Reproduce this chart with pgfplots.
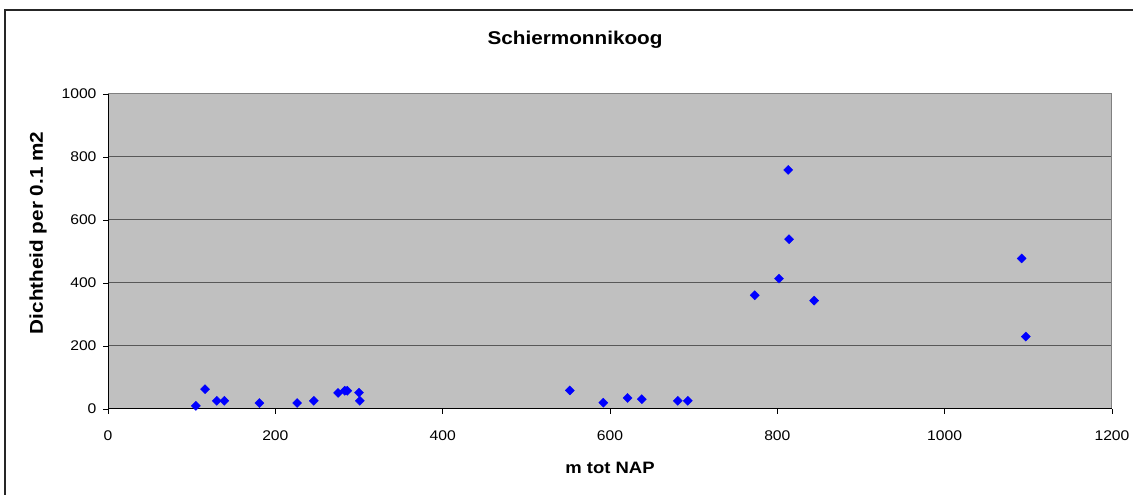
\documentclass[border=0pt]{standalone}
\usepackage{fontspec}
\setmainfont{Liberation Sans}[FakeStretch=1.12]
\usepackage{pgfplots}
\pgfplotsset{compat=1.18}
\definecolor{plotgrey}{RGB}{192,192,192}
\definecolor{gridgrey}{RGB}{88,88,88}
\definecolor{framegrey}{RGB}{128,128,128}

\begin{document}
\begin{tikzpicture}[x=1pt,y=1pt]
% outer chart frame
\draw[line width=1.2pt, black!85] (5,-20) -- (5,485) -- (1150,485);
\node[font=\bfseries\fontsize{18.5}{20}\selectfont] at (575,455) {Schiermonnikoog};
\begin{axis}[
  at={(108pt,86pt)}, anchor=south west,
  scale only axis, width=1004pt, height=315pt,
  xmin=0, xmax=1200, ymin=0, ymax=1000,
  xtick={0,200,...,1200}, ytick={0,200,...,1000},
  axis background/.style={fill=plotgrey},
  ymajorgrids, grid style={gridgrey, line width=1pt},
  axis line style={framegrey, line width=1pt},
  tick align=outside, major tick length=5pt,
  tick style={black, line width=0.8pt},
  tick pos=left,
  ticklabel style={font=\fontsize{14}{16}\selectfont},
  xticklabel style={yshift=-13pt},
  yticklabel style={xshift=-3pt},
  /pgf/number format/assume math mode=true,
  /pgf/number format/1000 sep={},
  scaled ticks=false,
  xlabel={m tot NAP}, ylabel={Dichtheid per 0.1 m2},
  xlabel style={font=\bfseries\fontsize{16.5}{18}\selectfont,
    at={(axis description cs:0.5,-0.187)}, anchor=center},
  ylabel style={font=\bfseries\fontsize{18.5}{20}\selectfont,
    at={(axis description cs:-0.0697,0.559)}, anchor=center},
]
\addplot[only marks, mark=square*, mark size=3.2pt,
  mark options={rotate=45, draw=blue, fill=blue}] table {
x y
105 10
116 63
130 26
139 26
181 19
226 19
246 26
275 51
283 58
286 58
300 52
301 26
552 59
592 20
621 35
638 31
681 26
693 26
773 361
802 414
813 759
814 539
844 344
1092 478
1097 230
};
% left and bottom axis lines in black
\draw[black, line width=1pt] (rel axis cs:0,1) -- (rel axis cs:0,0) -- (rel axis cs:1,0);
\end{axis}
\pgfresetboundingbox
\useasboundingbox (0,0) rectangle (1133,495);
\end{tikzpicture}
\end{document}
